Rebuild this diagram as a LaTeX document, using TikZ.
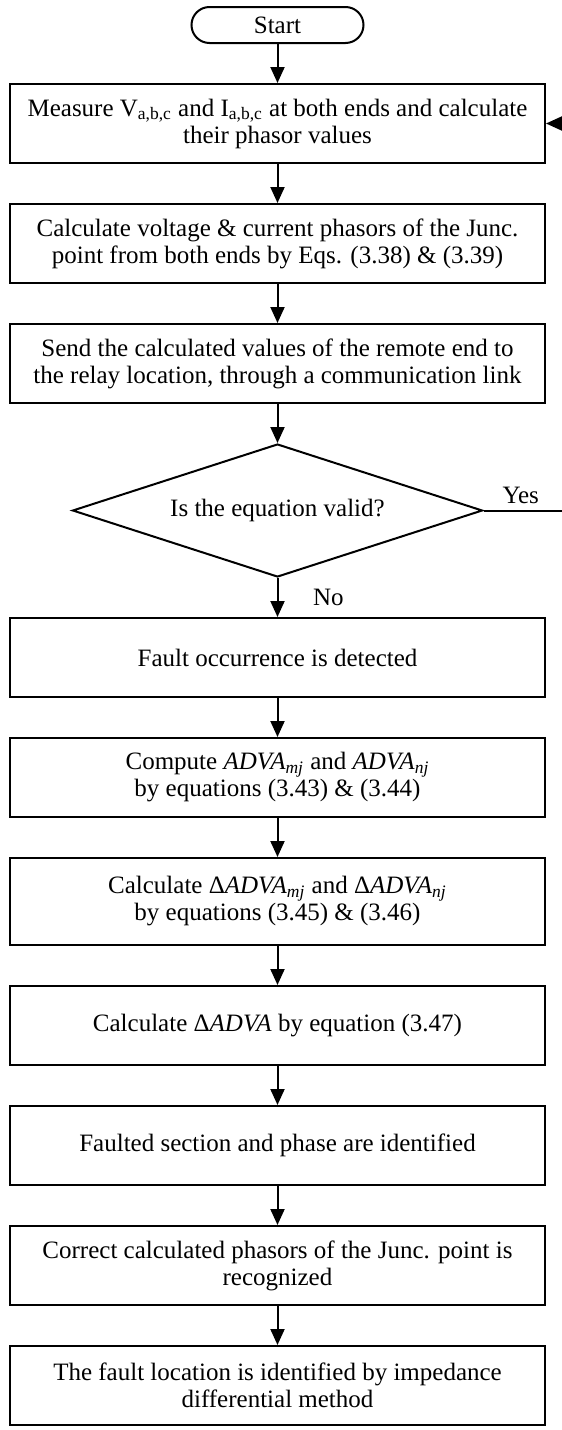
\documentclass[tikz,border=0pt]{standalone}
\usepackage{fontspec}
\setmainfont{Liberation Serif}
\usetikzlibrary{shapes,arrows.meta,positioning}

\begin{document}
\begin{tikzpicture}[
    node distance=19.5pt,
    font=\fontsize{12.5}{13.5}\selectfont,
    startstop/.style={rectangle, rounded corners=9pt, draw, line width=1pt, minimum width=86pt, minimum height=18pt},
    process/.style={rectangle, draw, line width=1pt, minimum width=267.5pt, minimum height=39.5pt, align=center},
    decision/.style={diamond, draw, line width=1pt, aspect=3, minimum width=205pt, minimum height=66.5pt, inner sep=0pt},
    flow/.style={-{Triangle[length=8pt,width=7pt]}, line width=1pt}
]
\useasboundingbox (0,0) rectangle (281pt,-715pt);

% Main column
\node[startstop] (start) at (138.75pt,-12.5pt) {Start};
\node[process, below=of start] (measure) {Measure V\textsubscript{a,b,c} and I\textsubscript{a,b,c} at both ends and calculate\\their phasor values};
\node[process, below=of measure] (junc) {Calculate voltage \& current phasors of the Junc.\\point from both ends by Eqs. (3.38) \& (3.39)};
\node[process, below=of junc] (send) {Send the calculated values of the remote end to\\the relay location, through a communication link};
\node[decision, below=of send] (valid) {Is the equation valid?};
\node[process, below=of valid] (detect) {Fault occurrence is detected};
\node[process, below=of detect] (adva) {Compute \textit{ADVA}\textsubscript{\textit{mj}} and \textit{ADVA}\textsubscript{\textit{nj}}\\by equations (3.43) \& (3.44)};
\node[process, below=of adva, minimum height=43.5pt] (dadva) {Calculate Δ\textit{ADVA}\textsubscript{\textit{mj}} and Δ\textit{ADVA}\textsubscript{\textit{nj}}\\by equations (3.45) \& (3.46)};
\node[process, below=of dadva] (total) {Calculate Δ\textit{ADVA} by equation (3.47)};
\node[process, below=of total] (section) {Faulted section and phase are identified};
\node[process, below=of section] (correct) {Correct calculated phasors of the Junc. point is\\recognized};
\node[process, below=of correct] (locate) {The fault location is identified by impedance\\differential method};

% Connectors
\draw[flow] (start) -- (measure);
\draw[flow] (measure) -- (junc);
\draw[flow] (junc) -- (send);
\draw[flow] (send) -- (valid);
\draw[flow] (valid) -- node[right=14pt] {No} (detect);
\draw[flow] (detect) -- (adva);
\draw[flow] (adva) -- (dadva);
\draw[flow] (dadva) -- (total);
\draw[flow] (total) -- (section);
\draw[flow] (section) -- (correct);
\draw[flow] (correct) -- (locate);

% Yes branch back to the measurement
\node[above right=0pt and 6pt of valid.east] (yes) {Yes};
\draw[flow] (valid.east) -- ++(50pt,0) |- (measure.east);

\end{tikzpicture}
\end{document}
